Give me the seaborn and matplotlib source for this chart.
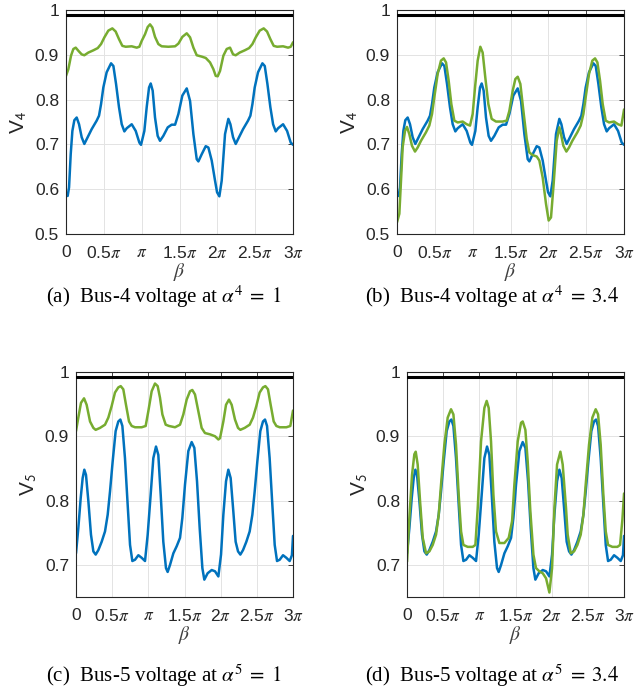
import numpy as np
import pandas as pd
import matplotlib
matplotlib.use("Agg")
import matplotlib.pyplot as plt
import seaborn as sns

# beta is stored in multiples of pi
# --- bus 4, alpha = 1 (blue, shared with panel b) ---
beta_a_blue = [0.000, 0.022, 0.040, 0.062, 0.084, 0.110, 0.141, 0.172, 0.207, 0.242, 0.286, 0.339,
               0.405, 0.436, 0.463, 0.493, 0.537, 0.595, 0.626, 0.661, 0.700, 0.736, 0.771, 0.802,
               0.868, 0.921, 0.969, 0.991, 1.035, 1.066, 1.097, 1.119, 1.145, 1.176, 1.211, 1.242,
               1.286, 1.344, 1.396, 1.441, 1.485, 1.537, 1.595, 1.639, 1.683, 1.727, 1.749, 1.793,
               1.846, 1.881, 1.925, 1.969, 1.996, 2.026, 2.057, 2.101, 2.145, 2.172, 2.207, 2.242,
               2.286, 2.339, 2.405, 2.436, 2.463, 2.493, 2.537, 2.595, 2.626, 2.661, 2.700, 2.736,
               2.771, 2.802, 2.868, 2.921, 2.969, 3.000]
v4_blue = [0.585, 0.585, 0.604, 0.678, 0.730, 0.754, 0.760, 0.745, 0.716, 0.701, 0.716, 0.734,
           0.753, 0.764, 0.790, 0.827, 0.861, 0.881, 0.875, 0.835, 0.783, 0.745, 0.729, 0.736,
           0.745, 0.730, 0.704, 0.699, 0.730, 0.783, 0.827, 0.836, 0.820, 0.760, 0.719, 0.708,
           0.719, 0.738, 0.744, 0.744, 0.768, 0.809, 0.825, 0.797, 0.723, 0.667, 0.662, 0.678,
           0.696, 0.693, 0.664, 0.619, 0.593, 0.584, 0.619, 0.723, 0.757, 0.745, 0.716, 0.701,
           0.716, 0.734, 0.753, 0.764, 0.790, 0.827, 0.861, 0.881, 0.875, 0.835, 0.783, 0.745,
           0.729, 0.736, 0.745, 0.730, 0.704, 0.699]

beta_a_green = [0.000, 0.031, 0.066, 0.097, 0.128, 0.163, 0.207, 0.242, 0.295, 0.361, 0.419, 0.463,
                0.507, 0.559, 0.612, 0.656, 0.700, 0.744, 0.789, 0.868, 0.934, 0.969, 1.000, 1.044,
                1.079, 1.110, 1.141, 1.176, 1.220, 1.264, 1.352, 1.441, 1.485, 1.537, 1.595, 1.639,
                1.683, 1.727, 1.793, 1.846, 1.903, 1.947, 1.978, 2.004, 2.035, 2.079, 2.123, 2.167,
                2.207, 2.242, 2.295, 2.361, 2.419, 2.463, 2.507, 2.559, 2.612, 2.656, 2.700, 2.744,
                2.789, 2.868, 2.934, 2.969, 3.000]
v4_green_a = [0.853, 0.868, 0.898, 0.913, 0.916, 0.909, 0.901, 0.899, 0.905, 0.910, 0.915, 0.924,
              0.939, 0.954, 0.959, 0.952, 0.935, 0.920, 0.918, 0.919, 0.916, 0.918, 0.931, 0.946,
              0.962, 0.968, 0.961, 0.940, 0.924, 0.919, 0.918, 0.919, 0.925, 0.940, 0.948, 0.939,
              0.916, 0.899, 0.896, 0.893, 0.883, 0.868, 0.853, 0.852, 0.864, 0.898, 0.913, 0.916,
              0.901, 0.899, 0.905, 0.910, 0.915, 0.924, 0.939, 0.954, 0.959, 0.952, 0.935, 0.920,
              0.918, 0.919, 0.916, 0.918, 0.928]

# --- bus 4, alpha = 3.4 ---
beta_b_green = [0.000, 0.031, 0.053, 0.075, 0.106, 0.132, 0.163, 0.198, 0.238, 0.273, 0.317, 0.383,
                0.427, 0.463, 0.493, 0.537, 0.581, 0.617, 0.648, 0.683, 0.718, 0.758, 0.802, 0.868,
                0.921, 0.965, 1.000, 1.031, 1.066, 1.101, 1.132, 1.167, 1.207, 1.251, 1.308, 1.396,
                1.449, 1.485, 1.529, 1.564, 1.595, 1.630, 1.670, 1.714, 1.749, 1.793, 1.846, 1.881,
                1.925, 1.969, 2.004, 2.035, 2.070, 2.110, 2.145, 2.167, 2.198, 2.238, 2.273, 2.317,
                2.383, 2.427, 2.463, 2.493, 2.537, 2.581, 2.617, 2.648, 2.683, 2.718, 2.758, 2.802,
                2.868, 2.921, 2.965, 3.000]
v4_green_b = [0.526, 0.545, 0.619, 0.694, 0.730, 0.739, 0.723, 0.697, 0.684, 0.693, 0.708, 0.727,
              0.742, 0.768, 0.805, 0.857, 0.887, 0.892, 0.883, 0.842, 0.790, 0.753, 0.749, 0.751,
              0.745, 0.742, 0.768, 0.827, 0.887, 0.918, 0.905, 0.849, 0.790, 0.757, 0.751, 0.751,
              0.753, 0.775, 0.820, 0.846, 0.851, 0.835, 0.775, 0.712, 0.682, 0.676, 0.673, 0.664,
              0.626, 0.567, 0.530, 0.537, 0.612, 0.708, 0.738, 0.723, 0.697, 0.684, 0.693, 0.708,
              0.727, 0.742, 0.768, 0.805, 0.857, 0.887, 0.892, 0.883, 0.842, 0.790, 0.753, 0.749,
              0.751, 0.745, 0.742, 0.778]

# --- bus 5, alpha = 1 (blue, shared with panel d) ---
beta_c_blue = [0.000, 0.032, 0.065, 0.092, 0.115, 0.138, 0.171, 0.207, 0.240, 0.272, 0.309, 0.355,
               0.401, 0.438, 0.470, 0.507, 0.548, 0.585, 0.613, 0.641, 0.677, 0.714, 0.747, 0.779,
               0.816, 0.862, 0.908, 0.954, 0.991, 1.032, 1.069, 1.106, 1.138, 1.171, 1.207, 1.244,
               1.267, 1.300, 1.346, 1.392, 1.438, 1.470, 1.507, 1.553, 1.599, 1.636, 1.673, 1.710,
               1.747, 1.774, 1.820, 1.876, 1.922, 1.968, 2.005, 2.037, 2.074, 2.106, 2.138, 2.175,
               2.207, 2.240, 2.272, 2.309, 2.355, 2.401, 2.438, 2.470, 2.507, 2.548, 2.585, 2.613,
               2.641, 2.677, 2.714, 2.747, 2.779, 2.816, 2.862, 2.908, 2.954, 2.985, 3.000]
v5_blue = [0.718, 0.757, 0.804, 0.835, 0.848, 0.840, 0.799, 0.747, 0.721, 0.716, 0.723, 0.736,
           0.752, 0.778, 0.814, 0.861, 0.908, 0.923, 0.926, 0.916, 0.866, 0.794, 0.731, 0.706,
           0.708, 0.715, 0.711, 0.706, 0.747, 0.809, 0.866, 0.884, 0.871, 0.809, 0.736, 0.695,
           0.689, 0.700, 0.718, 0.729, 0.742, 0.773, 0.825, 0.877, 0.891, 0.882, 0.830, 0.757,
           0.695, 0.677, 0.687, 0.692, 0.690, 0.682, 0.716, 0.778, 0.830, 0.848, 0.835, 0.783,
           0.736, 0.721, 0.716, 0.723, 0.736, 0.752, 0.778, 0.814, 0.861, 0.908, 0.923, 0.926,
           0.916, 0.866, 0.794, 0.731, 0.706, 0.708, 0.715, 0.711, 0.706, 0.715, 0.745]

beta_c_green = [0.000, 0.032, 0.069, 0.111, 0.147, 0.194, 0.240, 0.272, 0.332, 0.401, 0.447, 0.493,
                0.539, 0.585, 0.618, 0.654, 0.691, 0.733, 0.770, 0.816, 0.908, 0.963, 1.000, 1.046,
                1.092, 1.129, 1.161, 1.194, 1.240, 1.286, 1.369, 1.438, 1.484, 1.530, 1.576, 1.608,
                1.645, 1.691, 1.737, 1.783, 1.853, 1.922, 1.968, 1.991, 2.037, 2.074, 2.115, 2.152,
                2.198, 2.240, 2.272, 2.332, 2.401, 2.447, 2.493, 2.539, 2.585, 2.618, 2.654, 2.691,
                2.733, 2.770, 2.816, 2.908, 2.963, 3.000]
v5_green_c = [0.908, 0.929, 0.952, 0.959, 0.949, 0.923, 0.913, 0.910, 0.913, 0.918, 0.929, 0.947,
              0.968, 0.976, 0.978, 0.973, 0.949, 0.923, 0.916, 0.914, 0.914, 0.916, 0.939, 0.970,
              0.982, 0.978, 0.960, 0.934, 0.918, 0.916, 0.914, 0.918, 0.934, 0.957, 0.970, 0.972,
              0.965, 0.939, 0.913, 0.905, 0.903, 0.900, 0.895, 0.897, 0.923, 0.949, 0.957, 0.949,
              0.926, 0.913, 0.910, 0.913, 0.918, 0.929, 0.947, 0.968, 0.976, 0.978, 0.973, 0.949,
              0.923, 0.916, 0.914, 0.914, 0.916, 0.940]

# --- bus 5, alpha = 3.4 ---
beta_d_green = [0.000, 0.032, 0.069, 0.101, 0.120, 0.147, 0.180, 0.217, 0.263, 0.309, 0.355, 0.401,
                0.438, 0.470, 0.516, 0.562, 0.608, 0.641, 0.677, 0.714, 0.747, 0.779, 0.839, 0.908,
                0.945, 0.977, 1.023, 1.069, 1.101, 1.129, 1.161, 1.194, 1.230, 1.276, 1.346, 1.406,
                1.452, 1.484, 1.530, 1.576, 1.599, 1.636, 1.668, 1.705, 1.747, 1.783, 1.829, 1.876,
                1.922, 1.968, 2.005, 2.037, 2.074, 2.120, 2.152, 2.198, 2.221, 2.263, 2.309, 2.355,
                2.401, 2.438, 2.470, 2.516, 2.562, 2.608, 2.641, 2.677, 2.714, 2.747, 2.779, 2.839,
                2.908, 2.945, 2.977, 3.000]
v5_green_d = [0.705, 0.773, 0.840, 0.872, 0.876, 0.856, 0.799, 0.742, 0.718, 0.721, 0.731, 0.747,
              0.778, 0.825, 0.887, 0.929, 0.942, 0.934, 0.887, 0.809, 0.752, 0.731, 0.728, 0.728,
              0.731, 0.788, 0.892, 0.944, 0.955, 0.944, 0.892, 0.809, 0.752, 0.734, 0.734, 0.742,
              0.768, 0.825, 0.892, 0.921, 0.923, 0.910, 0.861, 0.783, 0.716, 0.695, 0.690, 0.687,
              0.679, 0.657, 0.695, 0.788, 0.856, 0.876, 0.856, 0.788, 0.747, 0.718, 0.721, 0.731,
              0.747, 0.778, 0.825, 0.887, 0.929, 0.942, 0.934, 0.887, 0.809, 0.752, 0.731, 0.728,
              0.728, 0.731, 0.770, 0.811]

v4_limit = 0.988
v5_limit = 0.992

x_ticks = [0, 0.5, 1, 1.5, 2, 2.5, 3]
x_tick_labels = ["0", r"0.5$\pi$", r"$\pi$", r"1.5$\pi$", r"2$\pi$", r"2.5$\pi$", r"3$\pi$"]
y_ticks_4 = [0.5, 0.6, 0.7, 0.8, 0.9, 1.0]
y_tick_labels_4 = ["0.5", "0.6", "0.7", "0.8", "0.9", "1"]
y_ticks_5 = [0.7, 0.8, 0.9, 1.0]
y_tick_labels_5 = ["0.7", "0.8", "0.9", "1"]

captions = [r"(a)  Bus-4 voltage at $\alpha^4\;=\;1$",
            r"(b)  Bus-4 voltage at $\alpha^4\;=\;3.4$",
            r"(c)  Bus-5 voltage at $\alpha^5\;=\;1$",
            r"(d)  Bus-5 voltage at $\alpha^5\;=\;3.4$"]

BLUE = "#0072BD"
GREEN = "#77AC30"
EDGE = "#262626"

sns.set_theme(style="white")
plt.rcParams["font.family"] = ["Liberation Sans", "DejaVu Sans"]
plt.rcParams["mathtext.fontset"] = "stix"

fig = plt.figure(figsize=(6.36, 6.91), dpi=100)

# [left, bottom, width, height] in figure fractions
boxes = [
    [0.1038, 0.6614, 0.3570, 0.3241],
    [0.6242, 0.6614, 0.3570, 0.3241],
    [0.1195, 0.1360, 0.3412, 0.3257],
    [0.6400, 0.1360, 0.3412, 0.3257],
]

panels = [
    (beta_a_blue, v4_blue, beta_a_green, v4_green_a, v4_limit, (0.5, 1.0), y_ticks_4, y_tick_labels_4, "4"),
    (beta_a_blue, v4_blue, beta_b_green, v4_green_b, v4_limit, (0.5, 1.0), y_ticks_4, y_tick_labels_4, "4"),
    (beta_c_blue, v5_blue, beta_c_green, v5_green_c, v5_limit, (0.65, 1.0), y_ticks_5, y_tick_labels_5, "5"),
    (beta_c_blue, v5_blue, beta_d_green, v5_green_d, v5_limit, (0.65, 1.0), y_ticks_5, y_tick_labels_5, "5"),
]

for box, (bx, by, gx, gy, limit, ylim, yt, ytl, bus) in zip(boxes, panels):
    ax = fig.add_axes(box)
    blue_df = pd.DataFrame({"beta": bx, "v": by})
    green_df = pd.DataFrame({"beta": gx, "v": gy})
    ax.axhline(limit, color="black", linewidth=2.2, zorder=3)
    sns.lineplot(data=blue_df, x="beta", y="v", color=BLUE, linewidth=1.8, ax=ax, sort=False)
    sns.lineplot(data=green_df, x="beta", y="v", color=GREEN, linewidth=1.8, ax=ax, sort=False)

    ax.set_xlim(0, 3)
    ax.set_ylim(*ylim)
    ax.set_xticks(x_ticks)
    ax.set_xticklabels(x_tick_labels)
    ax.set_yticks(yt)
    ax.set_yticklabels(ytl)
    ax.grid(True, color="#e3e3e3", linewidth=0.7)
    ax.set_axisbelow(True)
    ax.tick_params(direction="in", top=True, right=True, length=3.5, width=0.6,
                   colors=EDGE, labelsize=12.5)
    ax.tick_params(axis="x", pad=8)
    ax.tick_params(axis="y", pad=5)
    for s in ax.spines.values():
        s.set_color(EDGE)
        s.set_linewidth(0.8)
    ax.set_xlabel(r"$\beta$", fontsize=14, color="#404040", labelpad=0)
    ax.set_ylabel("V$_{\\mathsf{" + bus + "}}$", fontsize=15, color=EDGE, labelpad=4)

caption_pos = [(0.258, 0.5700), (0.7736, 0.5700), (0.258, 0.0217), (0.7736, 0.0217)]
for (cx, cy), txt in zip(caption_pos, captions):
    fig.text(cx, cy, txt, ha="center", va="center", fontsize=15,
             family=["Liberation Serif", "DejaVu Serif"], color="black")

fig.savefig("out.png", dpi=100)
